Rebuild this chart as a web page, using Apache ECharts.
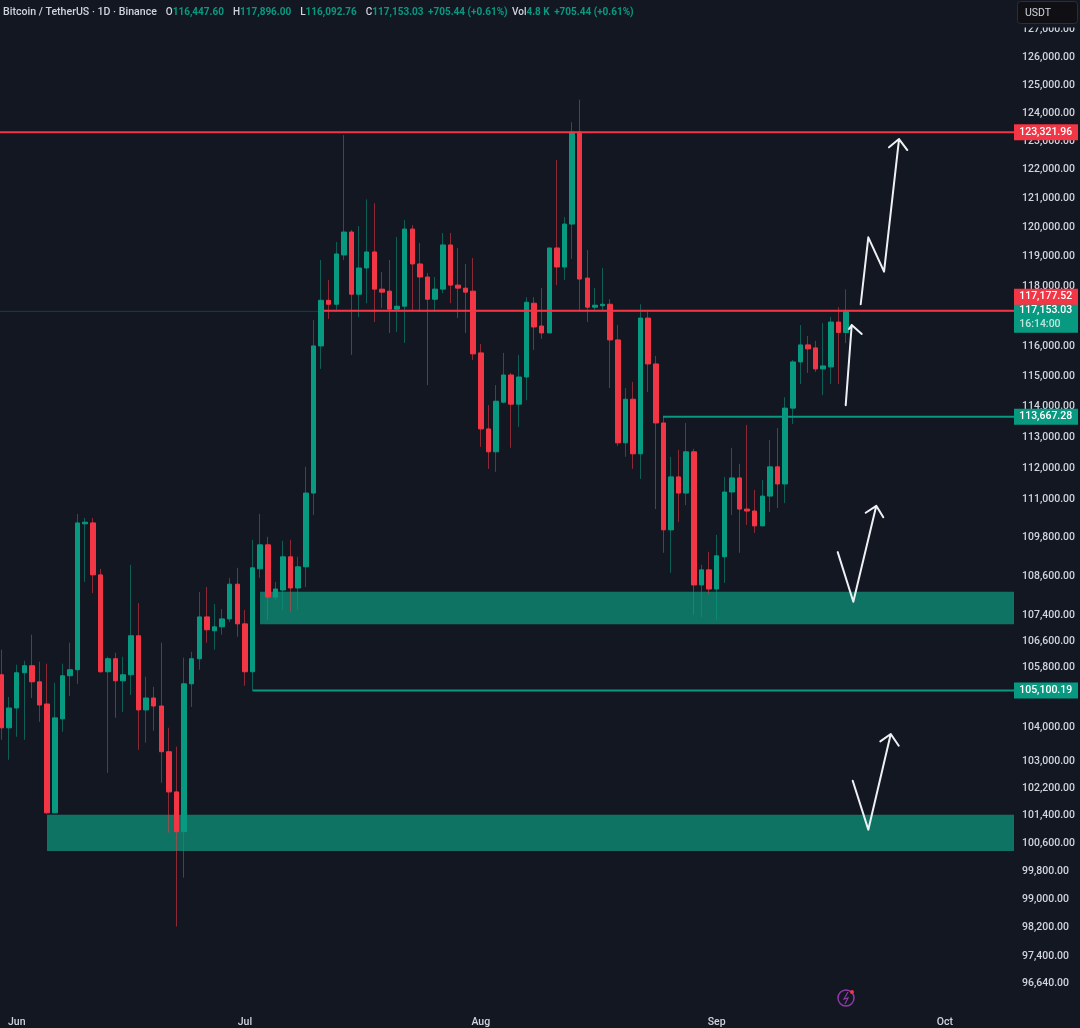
<!DOCTYPE html>
<html>
<head>
<meta charset="utf-8">
<style>html,body{margin:0;padding:0;background:#131722}#c{width:1080px;height:1028px}</style>
<script src="https://cdn.jsdelivr.net/npm/echarts@6/dist/echarts.min.js"></script>
</head>
<body>
<div id="c"></div>
<script>
// x values are days counted from 2025-05-30
const opens = [105577,103986,104578,105638,105851,105364,104697,101485,104253,105547,105729,110240,110268,108640,105668,106063,105395,105577,106763,104519,104877,104637,103276,102095,100940,105304,106063,107340,106915,107036,107279,108351,107127,105668,108828,109579,107951,108170,109204,108232,108891,111215,116000,117525,117392,119060,119845,117730,118617,119163,117901,117833,117227,117326,119947,118754,118311,117560,117901,119402,118037,117935,117833,115768,113276,112536,114146,115039,114081,114973,117426,116663,116431,119299,118651,120118,123321,118276,117293,117343,117392,116199,112825,114243,112471,116928,115403,113469,110049,111731,111215,112536,108326,108797,108201,109204,111248,111698,110706,110644,110174,111119,112053,111505,113952,115470,116033,115934,115238,115304,116796,116447.6];
const closes = [103986,104578,105638,105851,105364,104667,101485,104282,105547,105729,110268,110290,108640,105668,106063,105395,105577,106763,104519,104877,104637,103276,102095,100940,105304,106063,107340,106945,107036,107279,108351,107127,105668,108860,109579,107951,108201,109204,108232,108891,111215,116000,117525,117392,119095,119845,117730,118617,119163,117901,117799,117227,117326,119947,118754,118311,117560,117901,119402,118037,117935,117799,115735,113276,112536,114178,115039,114081,114973,117459,116630,116431,119299,118651,120118,123321,118242,117293,117359,117392,116199,112825,114243,112471,116928,115403,113469,110049,111731,111215,112536,108326,108797,108201,109235,111248,111698,110706,110644,110174,111119,112053,111505,113952,115470,116033,115901,115238,115337,116796,116448,117153.03];
const lows = [103631,103039,103720,103631,104877,104164,101456,101485,103868,104938,105304,108420,108076,105638,102654,104282,104460,104968,103335,103542,103897,102361,100911,98237,99619,104608,105729,106550,106337,106793,107188,106732,105242,105100,108546,107249,107857,107553,107492,107553,108263,110518,115238,116895,117193,118890,115702,116961,117426,116796,117260,116431,116464,116100,117193,117127,114707,117127,117764,117426,116928,116431,115536,112697,111988,111892,114113,112664,113341,114210,115868,116232,116431,118037,118208,118924,117160,116796,117160,117160,114608,112729,112375,111988,111666,114475,110706,109329,108703,110299,110831,107401,107340,108045,107249,108390,110518,109329,110206,109955,110174,110612,110738,110894,113437,114740,115105,115138,114376,114740,114740,116092.76];
const highs = [106337,104908,105881,106003,106793,105973,105911,105334,105911,106550,110550,110425,110425,108828,106124,106246,106124,108953,107766,105516,105212,106550,103986,103424,106094,106276,108108,108263,107735,107583,108546,108860,107553,109736,110550,109830,108420,109705,109736,109204,112053,116862,118890,118208,119504,123217,119913,120049,120971,120834,118481,118890,119674,120254,120083,119470,118447,118311,119811,119811,119299,118754,118958,116066,114049,114707,115768,115105,115702,117627,117627,117935,119299,122340,120356,123674,124474,119231,117935,118617,117560,116696,114608,114807,117392,117160,115669,113663,112375,112600,113469,112632,108953,109360,109892,111731,112664,112149,113405,111312,111634,112922,113308,114310,115536,116696,116332,116166,116763,116961,117293,117896];

const priceTicks = [127000,126000,125000,124000,123000,122000,121000,120000,119000,118000,116000,115000,114000,113000,112000,111000,109800,108600,107400,106600,105800,104000,103000,102200,101400,100600,99800,99000,98200,97400,96640];
const monthNames = ['Jun','Jul','Aug','Sep','Oct'];
const monthDays = [2,32,63,94,124];

const resistanceHigh = 123321.96, resistanceMid = 117177.52, lastClose = 117153.03, supportMid = 113667.28, supportLow = 105100.19;
const zoneUpper = [108120, 107115], zoneLower = [101430, 100380];

// arrow paths as [day, price]
const arrowNear  = [[110.96,114049],[111.75,116696],[111.4,116564],[111.75,116696],[113.07,116398]];
const arrowTall  = [[112.93,117392],[113.93,119664],[116.0,118491],[117.97,123077],[116.65,122786],[117.97,123077],[119.06,122691]];
const arrowMid   = [[109.91,109351],[111.96,107805],[114.98,110810],[113.59,110590],[114.98,110810],[115.9,110447]];
const arrowLow   = [[111.88,102420],[113.93,100997],[116.88,103800],[115.51,103581],[116.88,103800],[117.93,103453]];

const UP = '#089981', DOWN = '#f23645', BG = '#131722';
const dayStart = -0.197, dayEnd = 133.08;
const fmt = v => v.toLocaleString('en-US', {minimumFractionDigits: 2, maximumFractionDigits: 2});

const wickData = opens.map((o, i) => [i, o, closes[i], lows[i], highs[i]]);
const bodyData = opens.map((o, i) => [i, o, closes[i], Math.min(o, closes[i]), Math.max(o, closes[i])]);

function hline(name, price, fromDay, color, width, z, label) {
  return {
    type: 'line', name, z, silent: true, showSymbol: false, clip: false,
    data: [[fromDay, price], [dayEnd, price]],
    lineStyle: {color, width},
    endLabel: Object.assign({
      show: true, distance: 0, align: 'left', width: 64, color: '#fff', fontFamily: 'Roboto', fontWeight: 500,
      fontSize: 10.5, lineHeight: 15, backgroundColor: color, padding: [1, 0, 0, 0], formatter: () => '  ' + fmt(price)
    }, label)
  };
}
function arrow(name, pts) {
  return {
    type: 'line', name, z: 8, silent: true, showSymbol: false, clip: false,
    data: pts,
    lineStyle: {color: '#eef0f4', width: 2, join: 'round', cap: 'round'}
  };
}
function zone(name, fromDay, band) {
  return {
    type: 'line', name, z: 1, silent: true, showSymbol: false, data: [],
    markArea: {silent: true, itemStyle: {color: '#0f7363'}, z: 1,
      data: [[{coord: [fromDay, band[0]]}, {coord: [dayEnd, band[1]]}]]}
  };
}

const chart = echarts.init(document.getElementById('c'), null, {renderer: 'canvas'});
chart.setOption({
  animation: false,
  backgroundColor: BG,
  textStyle: {fontFamily: 'Roboto'},
  title: {
    left: 3, top: 3, padding: 0,
    text: '{n|Bitcoin / TetherUS · 1D · Binance}  {w|O}{g|116,447.60}  {w|H}{g|117,896.00}  {w|L}{g|116,092.76}  {w|C}{g|117,153.03} {g|+705.44 (+0.61%)} {w|Vol}{g|4.8 K} {g|+705.44 (+0.61%)}',
    textStyle: {rich: {
      n: {color: '#d1d4dc', fontSize: 10.6, fontWeight: 500, fontFamily: 'Roboto'},
      w: {color: '#d1d4dc', fontSize: 10, fontWeight: 500, fontFamily: 'Roboto'},
      g: {color: UP, fontSize: 10, fontFamily: 'Roboto'}
    }}
  },
  grid: {left: 0, top: 0.5, width: 1014, height: 1012},
  xAxis: {
    type: 'value', min: dayStart, max: dayEnd, scale: true,
    axisLine: {show: false}, axisTick: {show: false}, splitLine: {show: false},
    axisLabel: {
      customValues: monthDays,
      formatter: v => monthNames[monthDays.indexOf(+v)] || '',
      color: '#d1d4dc', fontSize: 10.5, fontWeight: 500, margin: 5, hideOverlap: false
    }
  },
  yAxis: {
    type: 'log', logBase: 10, position: 'right', min: 95860, max: 128058,
    axisLine: {show: false}, axisTick: {show: false}, splitLine: {show: false}, minorTick: {show: false}, minorSplitLine: {show: false},
    axisLabel: {
      customValues: priceTicks, formatter: v => fmt(+v),
      color: '#d1d4dc', fontSize: 10.5, fontWeight: 500, margin: 8, hideOverlap: false, padding: [2, 0, 0, 0]
    }
  },
  series: [
    zone('zoneUpper', 33.98, zoneUpper),
    zone('zoneLower', 5.98, zoneLower),
    {
      type: 'candlestick', name: 'wicks', z: 2, barWidth: 0, silent: true, data: wickData,
      encode: {x: 0, y: [1, 2, 3, 4]},
      itemStyle: {color: 'rgba(8,153,129,.55)', color0: 'rgba(242,54,69,.55)', borderColor: 'rgba(8,153,129,.55)', borderColor0: 'rgba(242,54,69,.55)', borderWidth: 1}
    },
    {
      type: 'candlestick', name: 'bodies', z: 3, barWidth: 5, silent: true, data: bodyData,
      encode: {x: 0, y: [1, 2, 3, 4]},
      itemStyle: {color: UP, color0: DOWN, borderColor: UP, borderColor0: DOWN, borderWidth: 1}
    },
    hline('lastPrice', lastClose, dayStart, 'rgba(8,153,129,.35)', 1, 5, {
      backgroundColor: UP, padding: [0, 0, 1, 0], offset: [0, 7],
      formatter: () => '{a|  ' + fmt(lastClose) + '}\n{b|  16:14:00}',
      rich: {a: {color: '#fff', fontSize: 10.5, fontWeight: 500, lineHeight: 14, fontFamily: 'Roboto'}, b: {color: '#bfe6de', fontSize: 10.5, lineHeight: 14, fontFamily: 'Roboto'}}
    }),
    hline('resistanceHigh', resistanceHigh, dayStart, DOWN, 2, 6, {}),
    hline('resistanceMid', resistanceMid, 42.26, DOWN, 2, 6, {offset: [0, -14]}),
    hline('supportMid', supportMid, 86.95, UP, 2, 6, {}),
    hline('supportLow', supportLow, 33, UP, 2, 6, {}),
    arrow('arrowNear', arrowNear),
    arrow('arrowTall', arrowTall),
    arrow('arrowMid', arrowMid),
    arrow('arrowLow', arrowLow)
  ],
  graphic: [
    {type: 'rect', z: 99, shape: {x: 1016, y: 23, width: 64, height: 4.5}, style: {fill: BG}},
    {type: 'rect', z: 100, shape: {x: 1017.5, y: 1.5, width: 60, height: 22, r: 3}, style: {fill: '#101014', stroke: '#2a2e39', lineWidth: 1}},
    {type: 'text', z: 101, style: {x: 1025, y: 13, text: 'USDT', fill: '#d1d4dc', font: '10.5px Roboto', textVerticalAlign: 'middle'}},
    {type: 'circle', z: 100, shape: {cx: 846, cy: 998, r: 8}, style: {fill: 'transparent', stroke: '#8e3aa8', lineWidth: 1.5}},
    {type: 'polyline', z: 101, shape: {points: [[848, 992], [844, 999], [848, 998], [845, 1004]]}, style: {fill: 'transparent', stroke: '#8e3aa8', lineWidth: 1.2}},
    {type: 'circle', z: 102, shape: {cx: 852, cy: 992, r: 2}, style: {fill: DOWN}}
  ]
});
</script>
</body>
</html>
